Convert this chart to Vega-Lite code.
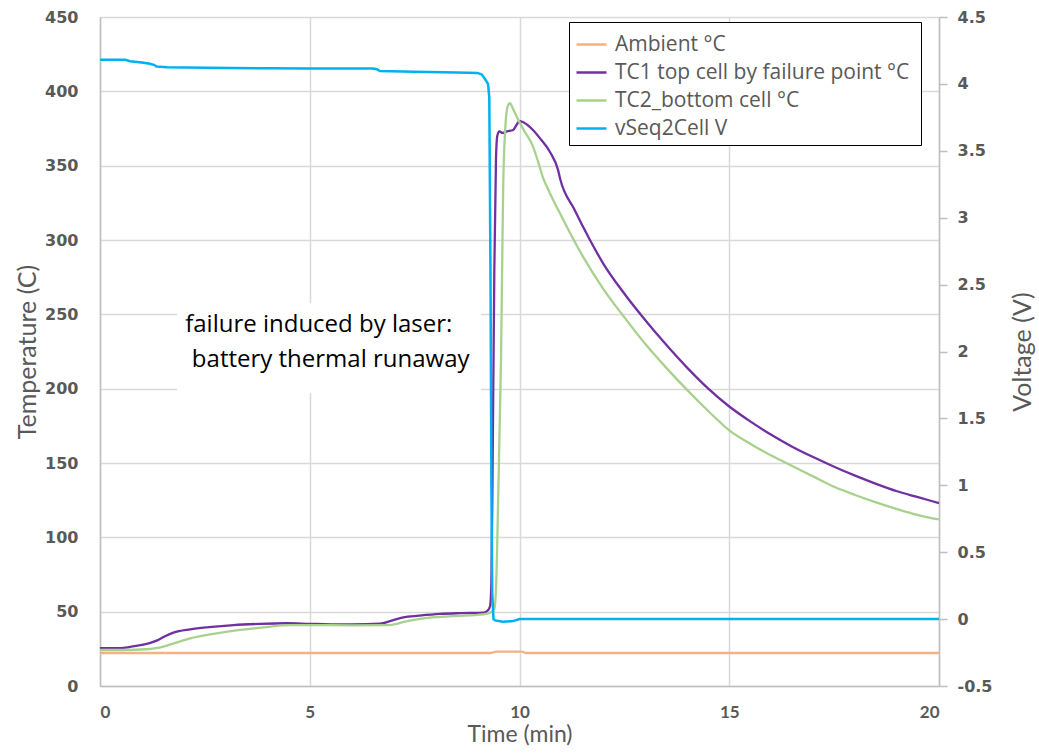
{
  "$schema": "https://vega.github.io/schema/vega-lite/v6.json",
  "width": 839,
  "height": 669,
  "autosize": {"type": "none"},
  "padding": {"left": 100, "top": 17, "right": 100, "bottom": 67},
  "background": "#ffffff",
  "config": {
    "view": {"stroke": null},
    "axis": {
      "labelColor": "#595959",
      "titleColor": "#595959",
      "titleFont": "Lato",
      "titleFontWeight": "normal",
      "titleFontSize": 25,
      "domainColor": "#bfbfbf",
      "domainWidth": 1.5,
      "gridColor": "#d9d9d9",
      "gridWidth": 1.5,
      "tickColor": "#bfbfbf",
      "tickWidth": 1.5
    }
  },
  "datasets": {
    "series": [
      {"t": 0, "series": "Ambient °C", "v": 22.2},
      {"t": 5, "series": "Ambient °C", "v": 22.2},
      {"t": 9.3, "series": "Ambient °C", "v": 22.2},
      {"t": 9.45, "series": "Ambient °C", "v": 23.1},
      {"t": 10.05, "series": "Ambient °C", "v": 23.1},
      {"t": 10.15, "series": "Ambient °C", "v": 22.2},
      {"t": 15, "series": "Ambient °C", "v": 22.2},
      {"t": 20, "series": "Ambient °C", "v": 22.2},

      {"t": 0, "series": "TC1 top cell by failure point  °C", "v": 25.4},
      {"t": 0.5, "series": "TC1 top cell by failure point  °C", "v": 25.5},
      {"t": 0.72, "series": "TC1 top cell by failure point  °C", "v": 26.3},
      {"t": 1.0, "series": "TC1 top cell by failure point  °C", "v": 27.6},
      {"t": 1.2, "series": "TC1 top cell by failure point  °C", "v": 29},
      {"t": 1.35, "series": "TC1 top cell by failure point  °C", "v": 30.5},
      {"t": 1.55, "series": "TC1 top cell by failure point  °C", "v": 33.5},
      {"t": 1.75, "series": "TC1 top cell by failure point  °C", "v": 35.9},
      {"t": 2.15, "series": "TC1 top cell by failure point  °C", "v": 38.1},
      {"t": 2.6, "series": "TC1 top cell by failure point  °C", "v": 39.6},
      {"t": 3.18, "series": "TC1 top cell by failure point  °C", "v": 41},
      {"t": 3.8, "series": "TC1 top cell by failure point  °C", "v": 41.8},
      {"t": 4.45, "series": "TC1 top cell by failure point  °C", "v": 42.2},
      {"t": 5.0, "series": "TC1 top cell by failure point  °C", "v": 41.8},
      {"t": 5.5, "series": "TC1 top cell by failure point  °C", "v": 41.5},
      {"t": 6.0, "series": "TC1 top cell by failure point  °C", "v": 41.5},
      {"t": 6.67, "series": "TC1 top cell by failure point  °C", "v": 41.9},
      {"t": 6.95, "series": "TC1 top cell by failure point  °C", "v": 44},
      {"t": 7.23, "series": "TC1 top cell by failure point  °C", "v": 46.2},
      {"t": 7.6, "series": "TC1 top cell by failure point  °C", "v": 47.3},
      {"t": 8.1, "series": "TC1 top cell by failure point  °C", "v": 48.5},
      {"t": 8.6, "series": "TC1 top cell by failure point  °C", "v": 49},
      {"t": 9.14, "series": "TC1 top cell by failure point  °C", "v": 49.3},
      {"t": 9.25, "series": "TC1 top cell by failure point  °C", "v": 51},
      {"t": 9.3, "series": "TC1 top cell by failure point  °C", "v": 54},
      {"t": 9.33, "series": "TC1 top cell by failure point  °C", "v": 70},
      {"t": 9.36, "series": "TC1 top cell by failure point  °C", "v": 150},
      {"t": 9.4, "series": "TC1 top cell by failure point  °C", "v": 280},
      {"t": 9.44, "series": "TC1 top cell by failure point  °C", "v": 355},
      {"t": 9.47, "series": "TC1 top cell by failure point  °C", "v": 370},
      {"t": 9.52, "series": "TC1 top cell by failure point  °C", "v": 373},
      {"t": 9.6, "series": "TC1 top cell by failure point  °C", "v": 372},
      {"t": 9.7, "series": "TC1 top cell by failure point  °C", "v": 373},
      {"t": 9.85, "series": "TC1 top cell by failure point  °C", "v": 374},
      {"t": 9.92, "series": "TC1 top cell by failure point  °C", "v": 377},
      {"t": 10.0, "series": "TC1 top cell by failure point  °C", "v": 380},
      {"t": 10.1, "series": "TC1 top cell by failure point  °C", "v": 379},
      {"t": 10.32, "series": "TC1 top cell by failure point  °C", "v": 374},
      {"t": 10.5, "series": "TC1 top cell by failure point  °C", "v": 368},
      {"t": 10.73, "series": "TC1 top cell by failure point  °C", "v": 359},
      {"t": 10.92, "series": "TC1 top cell by failure point  °C", "v": 347},
      {"t": 10.97, "series": "TC1 top cell by failure point  °C", "v": 341},
      {"t": 11.3, "series": "TC1 top cell by failure point  °C", "v": 321},
      {"t": 11.68, "series": "TC1 top cell by failure point  °C", "v": 300},
      {"t": 12.0, "series": "TC1 top cell by failure point  °C", "v": 284},
      {"t": 12.47, "series": "TC1 top cell by failure point  °C", "v": 265},
      {"t": 13.0, "series": "TC1 top cell by failure point  °C", "v": 246},
      {"t": 13.42, "series": "TC1 top cell by failure point  °C", "v": 232},
      {"t": 14.0, "series": "TC1 top cell by failure point  °C", "v": 214},
      {"t": 14.5, "series": "TC1 top cell by failure point  °C", "v": 200},
      {"t": 15.0, "series": "TC1 top cell by failure point  °C", "v": 188},
      {"t": 15.5, "series": "TC1 top cell by failure point  °C", "v": 178},
      {"t": 16.0, "series": "TC1 top cell by failure point  °C", "v": 169},
      {"t": 16.5, "series": "TC1 top cell by failure point  °C", "v": 161},
      {"t": 17.0, "series": "TC1 top cell by failure point  °C", "v": 154},
      {"t": 17.5, "series": "TC1 top cell by failure point  °C", "v": 147.5},
      {"t": 18.0, "series": "TC1 top cell by failure point  °C", "v": 141.5},
      {"t": 18.5, "series": "TC1 top cell by failure point  °C", "v": 136},
      {"t": 19.0, "series": "TC1 top cell by failure point  °C", "v": 131},
      {"t": 19.5, "series": "TC1 top cell by failure point  °C", "v": 127},
      {"t": 20.0, "series": "TC1 top cell by failure point  °C", "v": 123},

      {"t": 0, "series": "TC2_bottom cell °C", "v": 24.2},
      {"t": 0.5, "series": "TC2_bottom cell °C", "v": 24.2},
      {"t": 1.19, "series": "TC2_bottom cell °C", "v": 24.9},
      {"t": 1.51, "series": "TC2_bottom cell °C", "v": 26.5},
      {"t": 1.8, "series": "TC2_bottom cell °C", "v": 29},
      {"t": 2.15, "series": "TC2_bottom cell °C", "v": 32},
      {"t": 2.7, "series": "TC2_bottom cell °C", "v": 35},
      {"t": 3.34, "series": "TC2_bottom cell °C", "v": 37.7},
      {"t": 3.9, "series": "TC2_bottom cell °C", "v": 39.5},
      {"t": 4.53, "series": "TC2_bottom cell °C", "v": 41},
      {"t": 5.0, "series": "TC2_bottom cell °C", "v": 41},
      {"t": 6.0, "series": "TC2_bottom cell °C", "v": 40.8},
      {"t": 6.91, "series": "TC2_bottom cell °C", "v": 41},
      {"t": 7.3, "series": "TC2_bottom cell °C", "v": 43.5},
      {"t": 7.71, "series": "TC2_bottom cell °C", "v": 45.5},
      {"t": 8.4, "series": "TC2_bottom cell °C", "v": 47},
      {"t": 9.14, "series": "TC2_bottom cell °C", "v": 48.2},
      {"t": 9.34, "series": "TC2_bottom cell °C", "v": 50},
      {"t": 9.4, "series": "TC2_bottom cell °C", "v": 52},
      {"t": 9.44, "series": "TC2_bottom cell °C", "v": 65},
      {"t": 9.48, "series": "TC2_bottom cell °C", "v": 110},
      {"t": 9.52, "series": "TC2_bottom cell °C", "v": 165},
      {"t": 9.56, "series": "TC2_bottom cell °C", "v": 221},
      {"t": 9.61, "series": "TC2_bottom cell °C", "v": 334},
      {"t": 9.66, "series": "TC2_bottom cell °C", "v": 375},
      {"t": 9.72, "series": "TC2_bottom cell °C", "v": 390},
      {"t": 9.77, "series": "TC2_bottom cell °C", "v": 392},
      {"t": 9.85, "series": "TC2_bottom cell °C", "v": 388},
      {"t": 9.95, "series": "TC2_bottom cell °C", "v": 382},
      {"t": 10.1, "series": "TC2_bottom cell °C", "v": 374},
      {"t": 10.32, "series": "TC2_bottom cell °C", "v": 363},
      {"t": 10.45, "series": "TC2_bottom cell °C", "v": 352},
      {"t": 10.56, "series": "TC2_bottom cell °C", "v": 342},
      {"t": 10.7, "series": "TC2_bottom cell °C", "v": 333},
      {"t": 11.0, "series": "TC2_bottom cell °C", "v": 316},
      {"t": 11.51, "series": "TC2_bottom cell °C", "v": 289},
      {"t": 12.0, "series": "TC2_bottom cell °C", "v": 267},
      {"t": 12.5, "series": "TC2_bottom cell °C", "v": 248},
      {"t": 13.0, "series": "TC2_bottom cell °C", "v": 230},
      {"t": 13.5, "series": "TC2_bottom cell °C", "v": 214},
      {"t": 14.0, "series": "TC2_bottom cell °C", "v": 199},
      {"t": 14.5, "series": "TC2_bottom cell °C", "v": 185},
      {"t": 15.0, "series": "TC2_bottom cell °C", "v": 172},
      {"t": 15.5, "series": "TC2_bottom cell °C", "v": 163},
      {"t": 16.0, "series": "TC2_bottom cell °C", "v": 155},
      {"t": 16.5, "series": "TC2_bottom cell °C", "v": 148},
      {"t": 17.0, "series": "TC2_bottom cell °C", "v": 141},
      {"t": 17.5, "series": "TC2_bottom cell °C", "v": 134},
      {"t": 18.0, "series": "TC2_bottom cell °C", "v": 128.5},
      {"t": 18.5, "series": "TC2_bottom cell °C", "v": 123.5},
      {"t": 19.0, "series": "TC2_bottom cell °C", "v": 119},
      {"t": 19.5, "series": "TC2_bottom cell °C", "v": 115},
      {"t": 20.0, "series": "TC2_bottom cell °C", "v": 112},

      {"t": 0, "series": "vSeq2Cell V", "v": 4.18},
      {"t": 0.6, "series": "vSeq2Cell V", "v": 4.18},
      {"t": 0.72, "series": "vSeq2Cell V", "v": 4.17},
      {"t": 1.0, "series": "vSeq2Cell V", "v": 4.16},
      {"t": 1.19, "series": "vSeq2Cell V", "v": 4.15},
      {"t": 1.3, "series": "vSeq2Cell V", "v": 4.14},
      {"t": 1.35, "series": "vSeq2Cell V", "v": 4.13},
      {"t": 1.6, "series": "vSeq2Cell V", "v": 4.125},
      {"t": 2.5, "series": "vSeq2Cell V", "v": 4.12},
      {"t": 4.0, "series": "vSeq2Cell V", "v": 4.117},
      {"t": 5.0, "series": "vSeq2Cell V", "v": 4.115},
      {"t": 6.5, "series": "vSeq2Cell V", "v": 4.115},
      {"t": 6.6, "series": "vSeq2Cell V", "v": 4.11},
      {"t": 6.67, "series": "vSeq2Cell V", "v": 4.096},
      {"t": 7.5, "series": "vSeq2Cell V", "v": 4.09},
      {"t": 8.5, "series": "vSeq2Cell V", "v": 4.085},
      {"t": 9.0, "series": "vSeq2Cell V", "v": 4.082},
      {"t": 9.1, "series": "vSeq2Cell V", "v": 4.07},
      {"t": 9.17, "series": "vSeq2Cell V", "v": 4.04},
      {"t": 9.25, "series": "vSeq2Cell V", "v": 4.0},
      {"t": 9.28, "series": "vSeq2Cell V", "v": 3.9},
      {"t": 9.31, "series": "vSeq2Cell V", "v": 2.5},
      {"t": 9.33, "series": "vSeq2Cell V", "v": 1.0},
      {"t": 9.35, "series": "vSeq2Cell V", "v": 0.2},
      {"t": 9.38, "series": "vSeq2Cell V", "v": 0.0},
      {"t": 9.42, "series": "vSeq2Cell V", "v": -0.01},
      {"t": 9.6, "series": "vSeq2Cell V", "v": -0.02},
      {"t": 9.85, "series": "vSeq2Cell V", "v": -0.015},
      {"t": 10.0, "series": "vSeq2Cell V", "v": 0.0},
      {"t": 20.0, "series": "vSeq2Cell V", "v": 0.0}
    ]
  },
  "layer": [
    {
      "layer": [
        {
          "data": {"values": [{}]},
          "mark": {"type": "rect", "fill": "#ffffff", "stroke": null},
          "encoding": {
            "x": {"datum": 1.84, "type": "quantitative"},
            "x2": {"datum": 9.08},
            "y": {"datum": 197, "type": "quantitative"},
            "y2": {"datum": 257.5}
          }
        },
        {
          "data": {"name": "series"},
          "transform": [{"filter": "datum.series !== 'vSeq2Cell V'"}],
          "mark": {"type": "line", "strokeWidth": 2.3, "interpolate": "monotone"},
          "encoding": {
            "x": {
              "field": "t", "type": "quantitative",
              "scale": {"domain": [0, 20], "nice": false, "zero": false},
              "axis": {
                "title": "Time (min)",
                "titleFontSize": 23,
                "values": [0, 5, 10, 15, 20],
                "grid": true,
                "ticks": false,
                "tickSize": 0,
                "labelFont": "Lato",
                "labelFontWeight": "bold",
                "labelFontSize": 17,
                "labelPadding": 18,
                "titlePadding": 3
              }
            },
            "y": {
              "field": "v", "type": "quantitative",
              "scale": {"domain": [0, 450], "nice": false, "zero": false},
              "axis": {
                "title": "Temperature (C)",
                "values": [0, 50, 100, 150, 200, 250, 300, 350, 400, 450],
                "grid": true,
                "ticks": false,
                "tickSize": 0,
                "labelFont": "DejaVu Sans",
                "labelFontWeight": "bold",
                "labelFontSize": 16,
                "labelPadding": 22,
                "titlePadding": 4
              }
            },
            "color": {
              "field": "series", "type": "nominal",
              "scale": {
                "domain": ["Ambient °C", "TC1 top cell by failure point  °C", "TC2_bottom cell °C", "vSeq2Cell V"],
                "range": ["#F4B183", "#7030A0", "#A9D18E", "#00B0F0"]
              },
              "legend": {
                "title": null,
                "orient": "none",
                "legendX": 469,
                "legendY": 5,
                "symbolType": "stroke",
                "symbolSize": 900,
                "symbolStrokeWidth": 2.5,
                "labelFont": "Open Sans",
                "labelFontSize": 21,
                "labelColor": "#595959",
                "labelLimit": 500,
                "labelOffset": 7,
                "rowPadding": 1,
                "padding": 6,
                "strokeColor": "#000000",
                "fillColor": "#ffffff"
              }
            },
            "order": {"field": "t", "type": "quantitative"}
          }
        },
        {
          "data": {"values": [{}]},
          "mark": {
            "type": "text",
            "align": "left",
            "baseline": "middle",
            "font": "Open Sans",
            "fontSize": 24,
            "color": "#000000",
            "text": "failure induced by laser:"
          },
          "encoding": {
            "x": {"datum": 2.03, "type": "quantitative"},
            "y": {"datum": 242.8, "type": "quantitative"}
          }
        },
        {
          "data": {"values": [{}]},
          "mark": {
            "type": "text",
            "align": "left",
            "baseline": "middle",
            "font": "Open Sans",
            "fontSize": 24,
            "color": "#000000",
            "text": "battery thermal runaway"
          },
          "encoding": {
            "x": {"datum": 2.19, "type": "quantitative"},
            "y": {"datum": 219.3, "type": "quantitative"}
          }
        }
      ]
    },
    {
      "data": {"name": "series"},
      "transform": [{"filter": "datum.series === 'vSeq2Cell V'"}],
      "mark": {"type": "line", "strokeWidth": 2.5},
      "encoding": {
        "x": {"field": "t", "type": "quantitative"},
        "y": {
          "field": "v", "type": "quantitative",
          "scale": {"domain": [-0.5, 4.5], "nice": false, "zero": false},
          "axis": {
            "orient": "right",
            "title": "Voltage (V)",
            "titleAngle": 270,
            "titleX": 83,
            "titleY": 334.5,
            "titleAlign": "center",
            "titleBaseline": "middle",
            "values": [-0.5, 0, 0.5, 1, 1.5, 2, 2.5, 3, 3.5, 4, 4.5],
            "labelExpr": "'' + datum.value",
            "grid": false,
            "ticks": true,
            "tickSize": 8,
            "labelFont": "DejaVu Sans",
            "labelFontWeight": "bold",
            "labelFontSize": 16,
            "labelPadding": 10
          }
        },
        "color": {"field": "series", "type": "nominal"},
        "order": {"field": "t", "type": "quantitative"}
      }
    }
  ],
  "resolve": {"scale": {"y": "independent"}}
}
